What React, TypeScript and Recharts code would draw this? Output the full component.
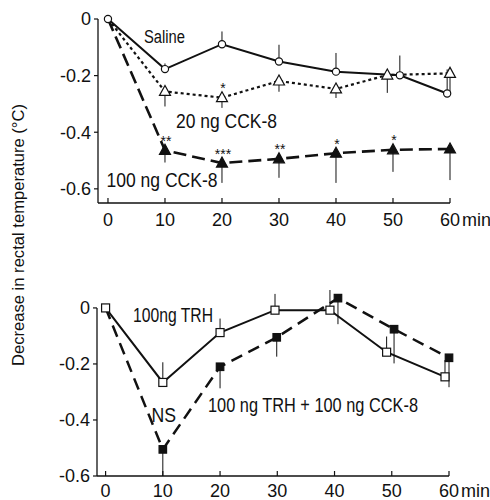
import React from 'react';
import { ComposedChart, Line, XAxis, YAxis, ErrorBar, ReferenceLine } from 'recharts';

// ---------- data ----------
const timeTicks = [0, 10, 20, 30, 40, 50, 60];
const tempTicksTop = [0, -0.2, -0.4, -0.6];
const tempTicksBottom = [0, -0.2, -0.4, -0.6];

const salineX = [0, 10, 20, 30, 40, 51.2, 59.5];
const salineY = [0, -0.177, -0.089, -0.15, -0.186, -0.199, -0.263];
const salineErrUp = [0, 0.02, 0.045, 0.059, 0.066, 0.07, 0.085];

const cck20X = [0, 10, 20, 30, 40, 49, 60];
const cck20Y = [0, -0.256, -0.278, -0.219, -0.247, -0.198, -0.192];
const cck20ErrDown = [0, 0.053, 0.036, 0.038, 0.032, 0.063, 0.07];
const cck20Stars = ['', '', '*', '', '', '', ''];

const cck100X = [0, 10, 20, 30, 40, 50, 60];
const cck100Y = [0, -0.464, -0.509, -0.494, -0.474, -0.462, -0.459];
const cck100ErrDown = [0, 0.043, 0.07, 0.067, 0.105, 0.078, 0.11];
const cck100Stars = ['', '**', '***', '**', '*', '*', ''];

const trhX = [0, 10, 20, 29.6, 39.2, 49.1, 59.3];
const trhY = [0, -0.266, -0.088, -0.008, -0.008, -0.158, -0.246];
const trhErrUp = [0, 0.072, 0.05, 0.058, 0.072, 0.056, 0.06];

const comboX = [0, 10, 20, 29.9, 40.6, 50.4, 60];
const comboY = [0, -0.505, -0.21, -0.105, 0.035, -0.076, -0.178];
const comboErrDown = [0, 0.095, 0.077, 0.069, 0.093, 0.122, 0.105];

// ---------- build tables ----------
const upTable = (xs: number[], ys: number[], errs: number[], stars?: string[]) =>
  xs.map((x, i) => ({ x, y: ys[i], err: [0, errs[i]], star: stars ? stars[i] : '' }));
const downTable = (xs: number[], ys: number[], errs: number[], stars?: string[]) =>
  xs.map((x, i) => ({ x, y: ys[i], err: [errs[i], 0], star: stars ? stars[i] : '' }));

const salineData = upTable(salineX, salineY, salineErrUp);
const cck20Data = downTable(cck20X, cck20Y, cck20ErrDown, cck20Stars);
const cck100Data = downTable(cck100X, cck100Y, cck100ErrDown, cck100Stars);
const trhData = upTable(trhX, trhY, trhErrUp);
const comboData = downTable(comboX, comboY, comboErrDown);

// ---------- styles ----------
const NARROW = "'Liberation Sans Narrow', 'Arial Narrow', 'Liberation Sans', Arial, sans-serif";
const SANS = "'Liberation Sans', Arial, Helvetica, sans-serif";
const INK = '#111';

// ---------- shapes ----------
const openCircle = (p: any) => (
  <circle key={`c-${p.index}`} cx={p.cx} cy={p.cy} r={3.6} fill="#fff" stroke={INK} strokeWidth={1.2} />
);
const triangle = (filled: boolean) => (p: any) => {
  if (p.index === 0) return <g key={`t-${p.index}`} />;
  const { cx, cy } = p;
  const star = p.payload && p.payload.star;
  const pts = `${cx},${cy - 6} ${cx - 5.5},${cy + 4} ${cx + 5.5},${cy + 4}`;
  return (
    <g key={`t-${p.index}`}>
      <polygon points={pts} fill={filled ? INK : '#fff'} stroke={INK} strokeWidth={1.2} />
      {star ? (
        <text x={cx + 1} y={cy - 4.5} textAnchor="middle" fontSize={14} fontFamily={SANS} fill={INK}>
          {star}
        </text>
      ) : null}
    </g>
  );
};
const square = (filled: boolean) => (p: any) => {
  if (filled && p.index === 0) return <g key={`s-${p.index}`} />;
  const s = filled ? 7.5 : 8;
  return (
    <rect key={`s-${p.index}`} x={p.cx - s / 2} y={p.cy - s / 2} width={s} height={s}
      fill={filled ? INK : '#fff'} stroke={INK} strokeWidth={1.2} />
  );
};

const makeXTick = (offset: number) => (p: any) => {
  const { x, y, payload } = p;
  return (
    <g>
      <line x1={x} y1={y} x2={x} y2={y - 5} stroke={INK} strokeWidth={1.2} />
      <text x={x} y={y + offset} textAnchor="middle" fontSize={18} fontFamily={NARROW} fill={INK}>
        {payload.value}
      </text>
      {payload.value === 60 ? (
        <text x={x + 12} y={y + offset} textAnchor="start" fontSize={18} fontFamily={NARROW} fill={INK}>
          min
        </text>
      ) : null}
    </g>
  );
};

const yFmt = (v: number) => (v === 0 ? '0' : v.toFixed(1));
const yTickStyle = { fontSize: 18, fontFamily: NARROW, fill: INK };

export default function App() {
  return (
    <div style={{ position: 'absolute', left: 0, top: 0, width: 490, height: 500, background: '#fff' }}>
      <div style={{ position: 'absolute', left: 0, top: 0 }}>
        <ComposedChart width={490} height={240} margin={{ top: 19, right: 40, bottom: 0, left: 0 }}>
          <XAxis type="number" dataKey="x" domain={[-1.75, 60]} ticks={timeTicks} height={37}
            axisLine={{ stroke: INK, strokeWidth: 1.3 }} tickLine={false} tickSize={0} tickMargin={0}
            tick={makeXTick(23)} interval={0} />
          <YAxis type="number" dataKey="y" domain={[-0.65, 0]} ticks={tempTicksTop} width={98}
            axisLine={{ stroke: INK, strokeWidth: 1.3 }} tickLine={{ stroke: INK, strokeWidth: 1.2 }}
            tickSize={4} tickMargin={3} tick={yTickStyle} tickFormatter={yFmt} interval={0} />
          <Line data={cck100Data} dataKey="y" stroke={INK} strokeWidth={2.6} strokeDasharray="13 6"
            dot={triangle(true)} isAnimationActive={false}>
            <ErrorBar dataKey="err" direction="y" width={0} stroke={INK} strokeWidth={1} />
          </Line>
          <Line data={cck20Data} dataKey="y" stroke={INK} strokeWidth={2.2} strokeDasharray="3 3"
            dot={triangle(false)} isAnimationActive={false}>
            <ErrorBar dataKey="err" direction="y" width={0} stroke={INK} strokeWidth={1} />
          </Line>
          <Line data={salineData} dataKey="y" stroke={INK} strokeWidth={2}
            dot={openCircle} isAnimationActive={false}>
            <ErrorBar dataKey="err" direction="y" width={0} stroke={INK} strokeWidth={1} />
          </Line>
        </ComposedChart>
      </div>
      <div style={{ position: 'absolute', left: 0, top: 250 }}>
        <ComposedChart width={490} height={250} margin={{ top: 40, right: 41, bottom: 0, left: 0 }}>
          <XAxis type="number" dataKey="x" domain={[-1.5, 60]} ticks={timeTicks} height={24}
            axisLine={{ stroke: INK, strokeWidth: 1.3 }} tickLine={false} tickSize={0} tickMargin={0}
            tick={makeXTick(20.5)} interval={0} />
          <YAxis type="number" dataKey="y" domain={[-0.6, 0.05]} ticks={tempTicksBottom} width={97}
            axisLine={false} tickLine={{ stroke: INK, strokeWidth: 1.2 }}
            tickSize={4} tickMargin={3} tick={yTickStyle} tickFormatter={yFmt} interval={0} />
          <ReferenceLine segment={[{ x: -1.5, y: 0 }, { x: -1.5, y: -0.6 }]} stroke={INK} strokeWidth={1.3} />
          <Line data={comboData} dataKey="y" stroke={INK} strokeWidth={2.5} strokeDasharray="12 7"
            dot={square(true)} isAnimationActive={false}>
            <ErrorBar dataKey="err" direction="y" width={0} stroke={INK} strokeWidth={1} />
          </Line>
          <Line data={trhData} dataKey="y" stroke={INK} strokeWidth={2}
            dot={square(false)} isAnimationActive={false}>
            <ErrorBar dataKey="err" direction="y" width={0} stroke={INK} strokeWidth={1} />
          </Line>
        </ComposedChart>
      </div>
      <svg width={490} height={500} style={{ position: 'absolute', left: 0, top: 0, pointerEvents: 'none' }}>
        <g fontFamily={NARROW} fill={INK}>
          <text x={144} y={42.5} fontSize={18} textLength={41} lengthAdjust="spacingAndGlyphs">Saline</text>
          <text x={176} y={128} fontSize={20} textLength={101} lengthAdjust="spacingAndGlyphs">20 ng CCK-8</text>
          <text x={106.5} y={187} fontSize={20} textLength={111} lengthAdjust="spacingAndGlyphs">100 ng CCK-8</text>
          <text x={133} y={322} fontSize={20} textLength={80} lengthAdjust="spacingAndGlyphs">100ng TRH</text>
          <text x={151.5} y={422} fontSize={20} textLength={24.5} lengthAdjust="spacingAndGlyphs">NS</text>
          <text x={208} y={412} fontSize={20} textLength={210} lengthAdjust="spacingAndGlyphs">100 ng TRH + 100 ng CCK-8</text>
        </g>
        <text x={24} y={235} transform="rotate(-90, 24, 235)" textAnchor="middle" fontSize={16.5}
          fontFamily={SANS} fill={INK} textLength={262} lengthAdjust="spacingAndGlyphs">
          Decrease  in  rectal  temperature  (°C)
        </text>
      </svg>
    </div>
  );
}
